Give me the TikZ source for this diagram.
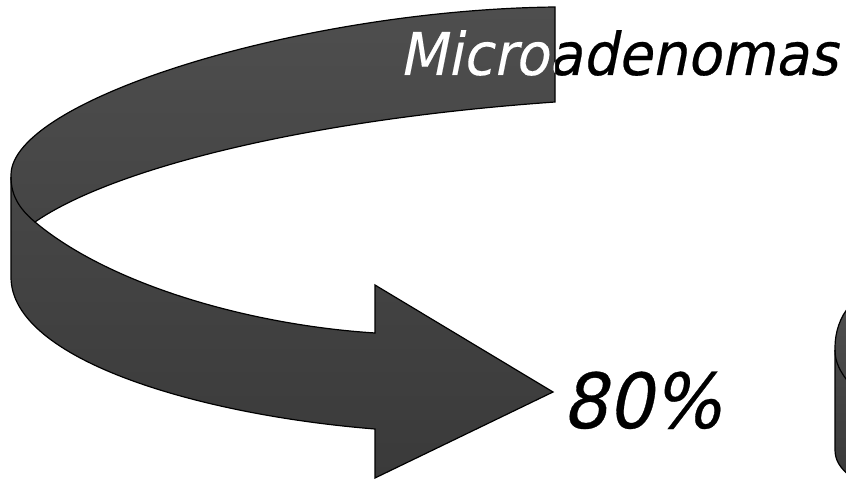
\documentclass[tikz,border=0pt]{standalone}
\usepackage{fontspec}
\usepackage{xcolor}
\newfontfamily\ribbonfont[FakeStretch=0.94,FakeSlant=0.2,FakeBold=0.4]{DejaVu Sans}
\usetikzlibrary{positioning}
\definecolor{ribbontop}{RGB}{78,78,78}
\definecolor{ribbonbot}{RGB}{58,58,58}
% outline of the curved arrow (pixel units, y down)
\newcommand{\ribbonpath}{(555,7) .. controls (300,10) and (11,100) .. (11,175)
  -- (11,277) .. controls (11,360) and (200,415) .. (375,429)
  -- (375,478) -- (553,392) -- (375,285) -- (375,333)
  .. controls (250,325) and (110,285) .. (35,222)
  .. controls (110,170) and (300,120) .. (555,102) -- cycle}

\begin{document}
\begin{tikzpicture}[x=1pt,y=-1pt,
  ribbon/.style={draw=black,line width=1.2,top color=ribbontop,bottom color=ribbonbot},
  edge/.style={draw=black,line width=1.2},
  lbl/.style={inner sep=0pt,anchor=base west,font=\ribbonfont}]
  \useasboundingbox (0,0) rectangle (846,481);
  % curved arrow
  \path[ribbon] \ribbonpath;
  \draw[edge] (11,177) .. controls (11,198) and (22,211) .. (35,222);
  % second arrow, cut off at the right
  \begin{scope}
  \clip (0,0) rectangle (846,481);
  \path[ribbon] (850,306) .. controls (840,316) and (835,333) .. (835,347)
    -- (835,450) .. controls (835,460) and (840,468) .. (850,476) -- cycle;
  \draw[edge] (835,350) .. controls (835,362) and (840,372) .. (850,384);
  \end{scope}
  % labels
  \node[lbl,font=\ribbonfont\fontsize{59}{60}\selectfont] (micro) at (399,75) {Microadenomas};
  \begin{scope}
  \clip \ribbonpath;
  \node[lbl,white,font=\ribbonfont\fontsize{59}{60}\selectfont] (microw) at (399,75) {Microadenomas};
  \end{scope}
  \node[lbl,font=\ribbonfont\fontsize{76}{78}\selectfont] (pct) at (562,428) {80\%};
\end{tikzpicture}
\end{document}
